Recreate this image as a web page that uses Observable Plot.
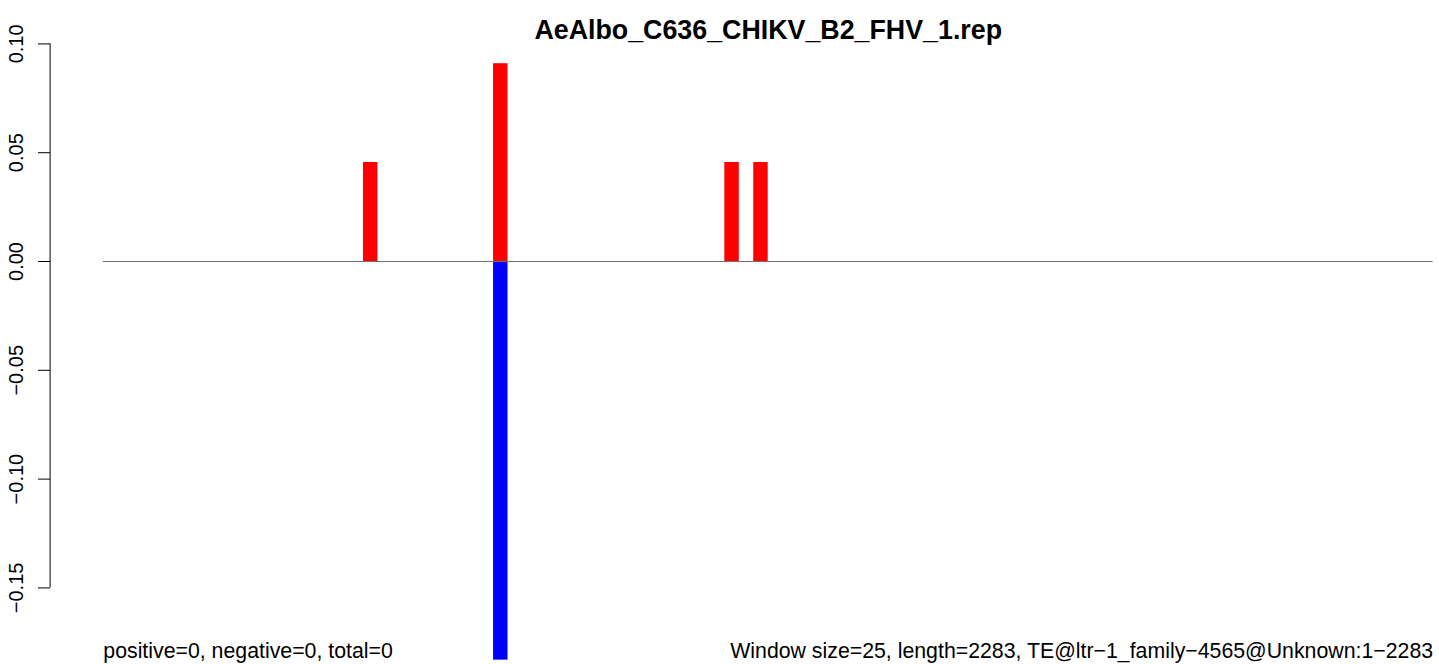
<!DOCTYPE html>
<html>
<head>
<meta charset="utf-8">
<script src="https://cdn.jsdelivr.net/npm/d3@7"></script>
<script src="https://cdn.jsdelivr.net/npm/@observablehq/plot@0.6"></script>
<style>
  html, body { margin: 0; padding: 0; background: #fff; }
  svg { display: block; font-family: "Liberation Sans", Arial, Helvetica, sans-serif; }
</style>
</head>
<body>
<div id="chart"></div>
<script>
// ---- data ----
const title = "AeAlbo_C636_CHIKV_B2_FHV_1.rep";
const windowSize = 25;
const seqLength = 2283;
const posStarts = [450, 675, 1075, 1125];          // window start (nt)
const posValues = [0.0455, 0.0909, 0.0455, 0.0455]; // positive strand
const negStarts = [675];
const negValues = [-0.1832];                         // negative strand
const yTicks = [-0.15, -0.10, -0.05, 0.00, 0.05, 0.10];
const yTickLabels = ["\u22120.15", "\u22120.10", "\u22120.05", "0.00", "0.05", "0.10"];
const leftNote = "positive=0, negative=0, total=0";
const rightNote = "Window size=25, length=2283, TE@ltr\u22121_family\u22124565@Unknown:1\u22122283";

const xMax = Math.ceil(seqLength / windowSize) * windowSize; // 2300
const xPad = 0.04 * xMax;

const pos = posStarts.map((s, i) => ({x1: s, x2: s + windowSize, y: posValues[i]}));
const neg = negStarts.map((s, i) => ({x1: s, x2: s + windowSize, y: negValues[i]}));
const ticks = yTicks.map((v, i) => ({v, label: yTickLabels[i]}));

const chart = Plot.plot({
  width: 1439,
  height: 664,
  marginLeft: 50,
  marginRight: 0,
  marginTop: 0,
  marginBottom: 0,
  x: {domain: [-xPad, xMax + xPad], range: [49.6, 1485.8], axis: null},
  y: {domain: [-0.15, 0.10], range: [587.4, 43.4], axis: null},
  style: {fontFamily: "Liberation Sans, Arial, Helvetica, sans-serif", background: "#fff"},
  marks: [
    Plot.rectY(pos, {x1: "x1", x2: "x2", y: "y", fill: "#ff0000"}),
    Plot.rectY(neg, {x1: "x1", x2: "x2", y: "y", fill: "#0000ff"}),
    Plot.ruleY([0], {x1: 0, x2: xMax, stroke: "#707070", strokeWidth: 1}),
    Plot.ruleX([-xPad], {y1: -0.15, y2: 0.10, stroke: "#000", strokeWidth: 1}),
    Plot.axisY({ticks: yTicks, tickSize: 12, tickFormat: () => "", stroke: "#000", strokeOpacity: 1, anchor: "left"}),
    Plot.text(ticks, {x: -xPad, y: "v", text: "label", rotate: -90, dx: -27, textAnchor: "middle", lineAnchor: "bottom", fontSize: 20, fill: "#000"}),
    Plot.text([title], {x: xMax / 2, frameAnchor: "top", dy: 38, lineAnchor: "bottom", textAnchor: "middle", fontSize: 26.8, fontWeight: "bold", fill: "#000"}),
    Plot.text([leftNote], {x: 0, frameAnchor: "bottom", dy: -7, lineAnchor: "bottom", textAnchor: "start", fontSize: 21.3, fill: "#000"}),
    Plot.text([rightNote], {x: xMax, frameAnchor: "bottom", dy: -7, lineAnchor: "bottom", textAnchor: "end", fontSize: 21.3, fill: "#000"})
  ]
});
document.getElementById("chart").appendChild(chart);
</script>
</body>
</html>
